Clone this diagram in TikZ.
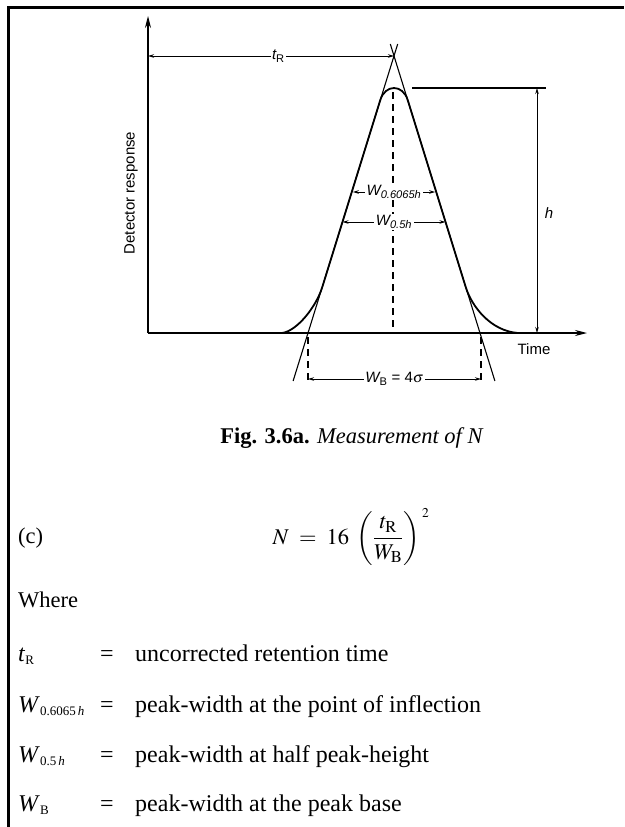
\documentclass[tikz,border=0pt]{standalone}
\usepackage{mathptmx}
\usepackage{fontspec}
\setmainfont{Liberation Serif}
\newfontfamily\diagfont{Liberation Sans}
\usetikzlibrary{arrows.meta}
\newcommand{\smallsub}[1]{\raisebox{-0.3ex}{\fontsize{13}{13}\selectfont #1}}
\tikzset{
  axisarr/.style ={-{Stealth[length=12pt,width=6pt]}, line width=1.1pt},
  dimarr/.style  ={{Stealth[length=6pt,width=3.5pt]}-{Stealth[length=6pt,width=3.5pt]},
                   line width=0.9pt},
  tanline/.style ={line width=1.1pt},
  peakline/.style={line width=1.8pt},
  dashln/.style  ={dash pattern=on 7pt off 5pt, line width=1.1pt},
  lbl/.style     ={font=\diagfont\fontsize{15}{18}\selectfont, inner sep=1.5pt},
  dimlbl/.style  ={font=\diagfont\fontsize{15}{18}\selectfont, fill=white,
                   inner sep=1.5pt},
  txt/.style     ={font=\fontsize{22.5}{27}\selectfont, anchor=base west,
                   inner sep=0pt},
  rowtxt/.style  ={font=\fontsize{24}{29}\selectfont, anchor=base west,
                   inner sep=0pt},
  frame/.style   ={line width=3pt},
}

\begin{document}
\begin{tikzpicture}[x=1pt,y=-1pt]
  \useasboundingbox (0,0) rectangle (624,827);
  % frame
  \draw[frame] (8.5,827) -- (8.5,7) -- (624,7);
  % axes
  \coordinate (O)    at (148,333);
  \coordinate (ytop) at (148,16);
  \coordinate (xtip) at (587,333);
  \draw[axisarr] (O) -- (ytop);
  \draw[axisarr] (O) -- (xtip);
  \node[lbl, rotate=90] (ylab) at (131,193) {Detector response};
  \node[lbl] (xlab) at (534,349) {Time};
  % tangents through the apex
  \coordinate (apex) at (394,56);
  \coordinate (lt1) at (397.7,44);
  \coordinate (lt2) at (293.1,381);
  \coordinate (rt1) at (390.3,44);
  \coordinate (rt2) at (494.9,381);
  \draw[tanline] (lt1) -- (lt2);
  \draw[tanline] (rt1) -- (rt2);
  % the peak
  \draw[peakline] (282,333) .. controls (297,331) and (316.1,307) .. (322.3,287)
    -- (380.3,100) .. controls (385.3,84) and (402.7,84) .. (407.7,100)
    -- (465.7,287) .. controls (471.9,307) and (491,331) .. (518,333);
  % retention time
  \coordinate (tR0) at (148,56);
  \draw[dimarr] (tR0) -- (apex) node[dimlbl, pos=0.53] (tRlab) {\itshape t\textsubscript{\upshape R}};
  % centre line
  \coordinate (c1) at (393,92);
  \coordinate (c2) at (393,333);
  \draw[dashln] (c1) -- (c2);
  % widths
  \coordinate (wi1) at (352.8,192);
  \coordinate (wi2) at (435.2,192);
  \draw[dimarr] (wi1) -- (wi2) node[dimlbl, midway] (wilab)
    {\itshape W\textsubscript{0.6065\itshape h}};
  \coordinate (wh1) at (342.5,222);
  \coordinate (wh2) at (445.5,222);
  \draw[dimarr] (wh1) -- (wh2) node[dimlbl, midway] (whlab)
    {\itshape W\textsubscript{0.5\itshape h}};
  % base width
  \coordinate (b1) at (308,337);
  \coordinate (b2) at (308,384);
  \coordinate (b3) at (481,337);
  \coordinate (b4) at (481,384);
  \draw[dashln] (b1) -- (b2);
  \draw[dashln] (b3) -- (b4);
  \coordinate (wb1) at (308,379);
  \coordinate (wb2) at (481,379);
  \draw[dimarr] (wb1) -- (wb2) node[dimlbl, midway] (wblab)
    {\itshape W\textsubscript{\upshape B}\upshape\ = 4$\sigma$};
  % peak height
  \coordinate (h1) at (412,88);
  \coordinate (h2) at (546,88);
  \draw[tanline] (h1) -- (h2);
  \coordinate (ht) at (537,88);
  \coordinate (hb) at (537,333);
  \draw[dimarr] (ht) -- (hb);
  \node[lbl] (hlab) at (549,213) {\itshape h};
  % caption and definitions
  \node[txt, anchor=base] (capt) at (352,443)
    {\textbf{Fig. 3.6a.} \textit{Measurement of N}};
  \node[txt] (clab) at (18,543) {(c)};
  \node[txt, anchor=base] (form) at (351,544)
    {$N \;=\; 16\;\left({\displaystyle\frac{t_{\mathrm{R}}}{W_{\mathrm{B}}}}\right)^{\,\scriptscriptstyle 2}$};
  \node[txt] (where) at (18,607) {Where};
  \node[rowtxt] (s1) at (18,661) {\textit{t}\smallsub{R}};
  \node[rowtxt] (e1) at (100,661) {=};
  \node[rowtxt] (d1) at (135,661) {uncorrected retention time};
  \node[rowtxt] (s2) at (18,712) {\textit{W}\smallsub{0.6065\,\textit{h}}};
  \node[rowtxt] (e2) at (100,712) {=};
  \node[rowtxt] (d2) at (135,712) {peak-width at the point of inflection};
  \node[rowtxt] (s3) at (18,762) {\textit{W}\smallsub{0.5\,\textit{h}}};
  \node[rowtxt] (e3) at (100,762) {=};
  \node[rowtxt] (d3) at (135,762) {peak-width at half peak-height};
  \node[rowtxt] (s4) at (18,811) {\textit{W}\smallsub{B}};
  \node[rowtxt] (e4) at (100,811) {=};
  \node[rowtxt] (d4) at (135,811) {peak-width at the peak base};
\end{tikzpicture}
\end{document}
